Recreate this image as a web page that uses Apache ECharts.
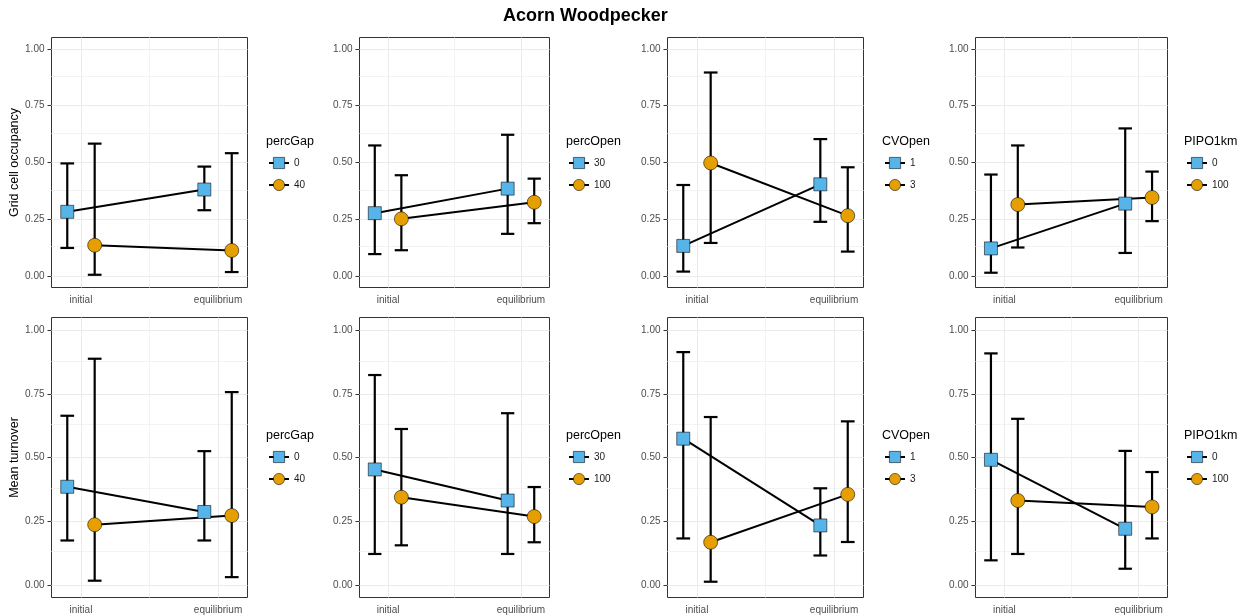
<!DOCTYPE html>
<html>
<head>
<meta charset="utf-8">
<title>Acorn Woodpecker</title>
<script src="https://cdn.jsdelivr.net/npm/echarts@6/dist/echarts.min.js"></script>
<style>
  html, body { margin: 0; padding: 0; background: #ffffff; }
  #chart { width: 1250px; height: 616px; }
</style>
</head>
<body>
<div id="chart"></div>
<script>
// Model stages on the x axis and their positions on the value scale
const stages = ['initial', 'equilibrium'];
const stageAt = [1, 2];
const stageMid = [1.5];

// y axis ticks (major and minor)
const yTicks = [0, 0.25, 0.5, 0.75, 1];
const yMinor = [0.125, 0.375, 0.625, 0.875];

// Row titles and the factor shown in each column
const responses = ['Grid cell occupancy', 'Mean turnover'];
const factors = ['percGap', 'percOpen', 'CVOpen', 'PIPO1km'];
const levels = [['0', '40'], ['30', '100'], ['1', '3'], ['0', '100']];

// Grid cell occupancy: one row per factor level, values for [initial, equilibrium]
const occupancyMean = [
  [0.283, 0.381], [0.136, 0.113],   // percGap 0, 40
  [0.277, 0.385], [0.252, 0.325],   // percOpen 30, 100
  [0.133, 0.404], [0.498, 0.266],   // CVOpen 1, 3
  [0.122, 0.319], [0.315, 0.346]    // PIPO1km 0, 100
];
const occupancyLow = [
  [0.124, 0.290], [0.006, 0.018],
  [0.097, 0.186], [0.114, 0.233],
  [0.020, 0.239], [0.146, 0.108],
  [0.015, 0.102], [0.126, 0.242]
];
const occupancyHigh = [
  [0.496, 0.482], [0.583, 0.541],
  [0.575, 0.622], [0.444, 0.429],
  [0.401, 0.603], [0.896, 0.479],
  [0.447, 0.650], [0.575, 0.460]
];

// Mean turnover
const turnoverMean = [
  [0.385, 0.286], [0.236, 0.272],
  [0.453, 0.331], [0.344, 0.268],
  [0.574, 0.233], [0.167, 0.355],
  [0.491, 0.220], [0.331, 0.306]
];
const turnoverLow = [
  [0.174, 0.174], [0.016, 0.030],
  [0.121, 0.121], [0.155, 0.167],
  [0.182, 0.115], [0.012, 0.168],
  [0.096, 0.063], [0.121, 0.182]
];
const turnoverHigh = [
  [0.664, 0.525], [0.888, 0.757],
  [0.824, 0.674], [0.612, 0.384],
  [0.914, 0.379], [0.659, 0.642],
  [0.909, 0.526], [0.652, 0.443]
];

const rowMean = [occupancyMean, turnoverMean];
const rowLow = [occupancyLow, turnoverLow];
const rowHigh = [occupancyHigh, turnoverHigh];

// ---- layout & style ----
const FONT = '"Liberation Sans", Arial, Helvetica, sans-serif';
const panelLeft = [51, 359, 667, 975];
const panelWidth = [196, 190, 196, 192];
const rowTop = [37, 317];
const rowHeight = [250, 280];
const keyLeft = [268, 568, 884, 1186];
const legendTitleTop = [134.5, 428.5];
const legendTop = [156, 450];

const X_MIN = 0.785, X_MAX = 2.215;   // dodged positions plus 5% padding
const Y_MIN = -0.05, Y_MAX = 1.05;
const DODGE = 0.1;                   // half of the dodge width
const CAP = 0.05;                    // half of the error bar cap width

const groupStyle = [
  { symbol: 'rect', size: 13, color: '#56B4E9' },
  { symbol: 'circle', size: 14, color: '#E69F00' }
];
const GRID_MAJOR = '#ebebeb';
const GRID_MINOR = '#f3f3f3';

function renderErrorBar(params, api) {
  const x = api.value(0), lo = api.value(1), hi = api.value(2);
  const a = api.coord([x, lo]);
  const b = api.coord([x, hi]);
  const l1 = api.coord([x - CAP, lo]), r1 = api.coord([x + CAP, lo]);
  const l2 = api.coord([x - CAP, hi]), r2 = api.coord([x + CAP, hi]);
  const style = { stroke: '#000', lineWidth: 2.2, fill: null };
  return {
    type: 'group',
    children: [
      { type: 'line', shape: { x1: a[0], y1: a[1], x2: b[0], y2: b[1] }, style },
      { type: 'line', shape: { x1: l1[0], y1: l1[1], x2: r1[0], y2: r1[1] }, style },
      { type: 'line', shape: { x1: l2[0], y1: l2[1], x2: r2[0], y2: r2[1] }, style }
    ]
  };
}

const grids = [], xAxes = [], yAxes = [], series = [], legends = [];
const titles = [{
  text: 'Acorn Woodpecker',
  left: 503, top: 7, padding: 0,
  textStyle: { fontSize: 18, fontWeight: 'bold', color: '#000', fontFamily: FONT }
}];

for (let r = 0; r < 2; r++) {
  for (let c = 0; c < 4; c++) {
    const k = r * 4 + c;
    grids.push({
      left: panelLeft[c] + 0.5, top: rowTop[r] + 0.5,
      width: panelWidth[c], height: rowHeight[r],
      show: true, borderColor: '#333333', borderWidth: 1,
      backgroundColor: 'transparent'
    });
    xAxes.push({
      gridIndex: k, type: 'value', min: X_MIN, max: X_MAX,
      axisLine: { show: false },
      splitLine: { show: false },
      axisTick: { show: true, customValues: stageAt, length: 4, lineStyle: { color: '#333333', width: 1 } },
      axisLabel: {
        customValues: stageAt,
        formatter: v => stages[stageAt.indexOf(Math.round(v))],
        color: '#4d4d4d', fontSize: 10, fontFamily: FONT, margin: 8
      }
    });
    yAxes.push({
      gridIndex: k, type: 'value', min: Y_MIN, max: Y_MAX,
      name: c === 0 ? responses[r] : '',
      nameLocation: 'middle', nameRotate: 90, nameGap: 26,
      nameTextStyle: { fontSize: 12.5, color: '#000', fontFamily: FONT },
      axisLine: { show: false },
      splitLine: { show: false },
      axisTick: { show: true, customValues: yTicks, length: 4, lineStyle: { color: '#333333', width: 1 } },
      axisLabel: {
        customValues: yTicks,
        formatter: v => v.toFixed(2),
        color: '#4d4d4d', fontSize: 10, fontFamily: FONT, margin: 7
      }
    });

    // panel grid lines, kept underneath every mark
    const gridLines = []
      .concat(yMinor.map(v => ({ yAxis: v, lineStyle: { color: GRID_MINOR, width: 1, type: 'solid' } })))
      .concat(stageMid.map(v => ({ xAxis: v, lineStyle: { color: GRID_MINOR, width: 1, type: 'solid' } })))
      .concat(yTicks.map(v => ({ yAxis: v, lineStyle: { color: GRID_MAJOR, width: 1, type: 'solid' } })))
      .concat(stageAt.map(v => ({ xAxis: v, lineStyle: { color: GRID_MAJOR, width: 1, type: 'solid' } })));
    series.push({
      type: 'line', name: 'grid-' + k, xAxisIndex: k, yAxisIndex: k, data: [], z: 1,
      silent: true,
      markLine: {
        z: 1, silent: true, symbol: ['none', 'none'], animation: false,
        label: { show: false }, emphasis: { disabled: true },
        data: gridLines
      }
    });

    const bars = [];
    for (let g = 0; g < 2; g++) {
      const row = c * 2 + g;
      const off = g === 0 ? -DODGE : DODGE;
      const mean = rowMean[r][row], lo = rowLow[r][row], hi = rowHigh[r][row];
      const pts = stageAt.map((s, i) => [s + off, mean[i]]);
      stageAt.forEach((s, i) => bars.push([s + off, lo[i], hi[i]]));
      const gs = groupStyle[g];
      // connecting line (also supplies the legend key: line + marker)
      series.push({
        type: 'line', name: levels[c][g], xAxisIndex: k, yAxisIndex: k,
        data: pts, z: 3, silent: true, showSymbol: false,
        symbol: gs.symbol, symbolSize: gs.size,
        itemStyle: { color: gs.color, borderColor: 'rgba(0,0,0,0.55)', borderWidth: 1 },
        lineStyle: { color: '#000', width: 2 },
        emphasis: { disabled: true }
      });
      // markers
      series.push({
        type: 'scatter', name: 'points-' + k + '-' + g, xAxisIndex: k, yAxisIndex: k,
        data: pts, z: 4, silent: true,
        symbol: gs.symbol, symbolSize: gs.size,
        itemStyle: { color: gs.color, borderColor: 'rgba(0,0,0,0.55)', borderWidth: 1, opacity: 1 },
        emphasis: { disabled: true }
      });
    }
    series.push({
      type: 'custom', name: 'errorbars-' + k, xAxisIndex: k, yAxisIndex: k,
      data: bars, z: 2, silent: true,
      encode: { x: 0, y: [1, 2] },
      renderItem: renderErrorBar
    });

    titles.push({
      text: factors[c], left: keyLeft[c] - 2, top: legendTitleTop[r], padding: 0,
      textStyle: { fontSize: 12.5, fontWeight: 'normal', color: '#000', fontFamily: FONT, lineHeight: 15 }
    });
    legends.push({
      orient: 'vertical', left: keyLeft[c], top: legendTop[r], padding: 0,
      itemWidth: 20, itemHeight: 14, itemGap: 8,
      selectedMode: false,
      data: levels[c],
      itemStyle: { borderWidth: 1 },
      lineStyle: { width: 2 },
      textStyle: { fontSize: 10, color: '#1a1a1a', fontFamily: FONT, lineHeight: 14 }
    });
  }
}

const chart = echarts.init(document.getElementById('chart'), null, { renderer: 'canvas' });
chart.setOption({
  backgroundColor: '#ffffff',
  animation: false,
  title: titles,
  legend: legends,
  grid: grids,
  xAxis: xAxes,
  yAxis: yAxes,
  series: series
});
</script>
</body>
</html>
